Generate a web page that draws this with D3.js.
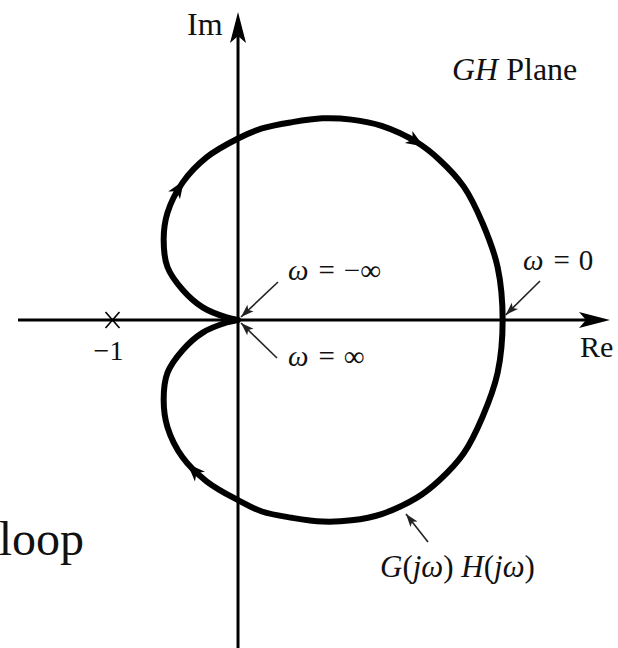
<!DOCTYPE html>
<html>
<head>
<meta charset="utf-8">
<script src="https://cdn.jsdelivr.net/npm/d3@7"></script>
<style>
  html, body { margin: 0; padding: 0; background: #fff; }
  svg { display: block; }
  text { font-family: "Liberation Serif", "Times New Roman", serif; fill: #111; }
</style>
</head>
<body>
<svg id="chart" width="618" height="648"></svg>
<script>
// Polar (Nyquist) locus of G(jω)H(jω)
// upper half: ω from −∞ up to 0
const upperRe = [0, -0.09, -0.28, -0.44, -0.56, -0.59, -0.56, -0.44, -0.25, 0, 0.19, 0.43, 0.67, 0.90, 1.14, 1.42, 1.60, 1.79, 1.94, 2.06, 2.10];
const upperIm = [0, 0.02, 0.10, 0.24, 0.42, 0.64, 0.85, 1.09, 1.29, 1.44, 1.52, 1.57, 1.60, 1.59, 1.54, 1.41, 1.27, 1.06, 0.77, 0.42, 0];
// lower half: ω from 0 up to +∞
const lowerRe = [2.10, 2.06, 1.94, 1.79, 1.60, 1.42, 1.14, 0.90, 0.67, 0.43, 0.19, 0, -0.25, -0.44, -0.56, -0.59, -0.56, -0.44, -0.28, -0.09, 0];
const lowerIm = [0, -0.42, -0.77, -1.06, -1.27, -1.41, -1.54, -1.59, -1.60, -1.57, -1.52, -1.43, -1.28, -1.09, -0.85, -0.63, -0.42, -0.24, -0.10, -0.02, 0];

// direction-of-travel arrowheads along the locus
const arrowRe = [-0.46, 1.44, -0.34];
const arrowIm = [1.07, 1.41, -1.15];

// real-axis tick
const tickValues = [-1];
const tickLabels = ["\u22121"];

const svg = d3.select("#chart");

const x = d3.scaleLinear().domain([-1.746, 2.952]).range([18, 610]);
const y = d3.scaleLinear().domain([2.444, -2.603]).range([12, 648]);

const ink = "#000";

// ---- axes ----
function axisHead(tx, ty, angle, len, half) {
  const p = `M0,0 L${-len},${-half} L${-len + 7},0 L${-len},${half} Z`;
  svg.append("path")
    .attr("d", p)
    .attr("fill", ink)
    .attr("transform", `translate(${tx},${ty}) rotate(${angle})`);
}

svg.append("line")
  .attr("x1", x(-1.746)).attr("x2", x(2.952) - 10)
  .attr("y1", y(0)).attr("y2", y(0))
  .attr("stroke", ink).attr("stroke-width", 3);
axisHead(x(2.952), y(0), 0, 31, 8);

svg.append("line")
  .attr("x1", x(0)).attr("x2", x(0))
  .attr("y1", y(-2.603)).attr("y2", y(2.444) + 10)
  .attr("stroke", ink).attr("stroke-width", 3);
axisHead(x(0), y(2.444), -90, 31, 8);

// tick label on the real axis, with a cross marking the point
const tickAxis = svg.append("g")
  .attr("transform", `translate(0,${y(0)})`)
  .call(d3.axisBottom(x)
    .tickValues(tickValues)
    .tickFormat((d, i) => tickLabels[i])
    .tickSize(0)
    .tickPadding(20));
tickAxis.select(".domain").remove();
tickAxis.selectAll("text")
  .attr("font-family", "Liberation Serif, serif")
  .attr("font-size", 28)
  .attr("fill", "#111")
  .attr("dx", -4);
tickAxis.selectAll(".tick").append("path")
  .attr("d", "M-7,-8 L7,8 M-7,8 L7,-8")
  .attr("stroke", ink)
  .attr("stroke-width", 1.6)
  .attr("fill", "none");

// ---- locus ----
const pts = upperRe.map((r, i) => [r, upperIm[i]])
  .concat(lowerRe.slice(1).map((r, i) => [r, lowerIm[i + 1]]));

const line = d3.line()
  .x(d => x(d[0]))
  .y(d => y(d[1]))
  .curve(d3.curveCatmullRom.alpha(0.5));

const locus = svg.append("path")
  .attr("d", line(pts))
  .attr("fill", "none")
  .attr("stroke", ink)
  .attr("stroke-width", 6)
  .attr("stroke-linejoin", "round")
  .attr("stroke-linecap", "round");

// place arrowheads on the path at the nearest point, aligned with its tangent
const node = locus.node();
const total = node.getTotalLength();
function nearestLength(px, py) {
  let best = 0, bestD = Infinity;
  for (let l = 0; l <= total; l += 0.5) {
    const p = node.getPointAtLength(l);
    const d = (p.x - px) ** 2 + (p.y - py) ** 2;
    if (d < bestD) { bestD = d; best = l; }
  }
  return best;
}
arrowRe.forEach((r, i) => {
  const l = nearestLength(x(r), y(arrowIm[i]));
  const p0 = node.getPointAtLength(Math.max(0, l - 2));
  const p1 = node.getPointAtLength(Math.min(total, l + 2));
  const p = node.getPointAtLength(l);
  const ang = Math.atan2(p1.y - p0.y, p1.x - p0.x) * 180 / Math.PI;
  svg.append("path")
    .attr("d", "M6,0 L-12,-7 L-7,0 L-12,7 Z")
    .attr("fill", ink)
    .attr("transform", `translate(${p.x},${p.y}) rotate(${ang})`);
});

// ---- annotation pointers ----
function pointer(x1, y1, x2, y2) {
  svg.append("line")
    .attr("x1", x1).attr("y1", y1).attr("x2", x2).attr("y2", y2)
    .attr("stroke", "#222").attr("stroke-width", 1.6);
  const ang = Math.atan2(y2 - y1, x2 - x1) * 180 / Math.PI;
  svg.append("path")
    .attr("d", "M0,0 L-13,-4.5 L-10,0 L-13,4.5 Z")
    .attr("fill", "#222")
    .attr("transform", `translate(${x2},${y2}) rotate(${ang})`);
}
// ω = −∞ and ω = +∞ both end at the origin
pointer(278, 282, x(0) + 3, y(0) - 3);
pointer(277, 358, x(0) + 3, y(0) + 3);
// ω = 0 at the real-axis crossing
pointer(540, 281, x(2.10) + 3, y(0) - 5);
// the locus label
pointer(428, 542, 406, 514);

// ---- labels ----
function label(xp, yp, size, parts) {
  const t = svg.append("text")
    .attr("x", xp).attr("y", yp)
    .attr("font-size", size)
    .attr("xml:space", "preserve");
  parts.forEach(([s, it, dx]) => {
    t.append("tspan")
      .attr("font-style", it ? "italic" : "normal")
      .attr("dx", dx || 0)
      .text(s);
  });
  return t;
}

label(187, 35, 32, [["Im", false]]);
label(580, 357, 30, [["Re", false]]);
label(452, 80, 32, [["GH", true], [" Plane", false]]);
label(288, 280, 29, [["\u03C9", true], ["=", false, 10], ["\u2212\u221E", false, 9]]);
label(288, 366, 29, [["\u03C9", true], ["=", false, 10], ["\u221E", false, 9]]);
label(523, 270, 29, [["\u03C9", true], ["=", false, 10], ["0", false, 9]]);
label(380, 577, 31, [["G", true], ["(", false], ["j\u03C9", true], [") ", false],
                     ["H", true], ["(", false], ["j\u03C9", true], [")", false]]);

svg.append("text")
  .attr("x", 84).attr("y", 555)
  .attr("text-anchor", "end")
  .attr("font-size", 48)
  .text("loop");
</script>
</body>
</html>
